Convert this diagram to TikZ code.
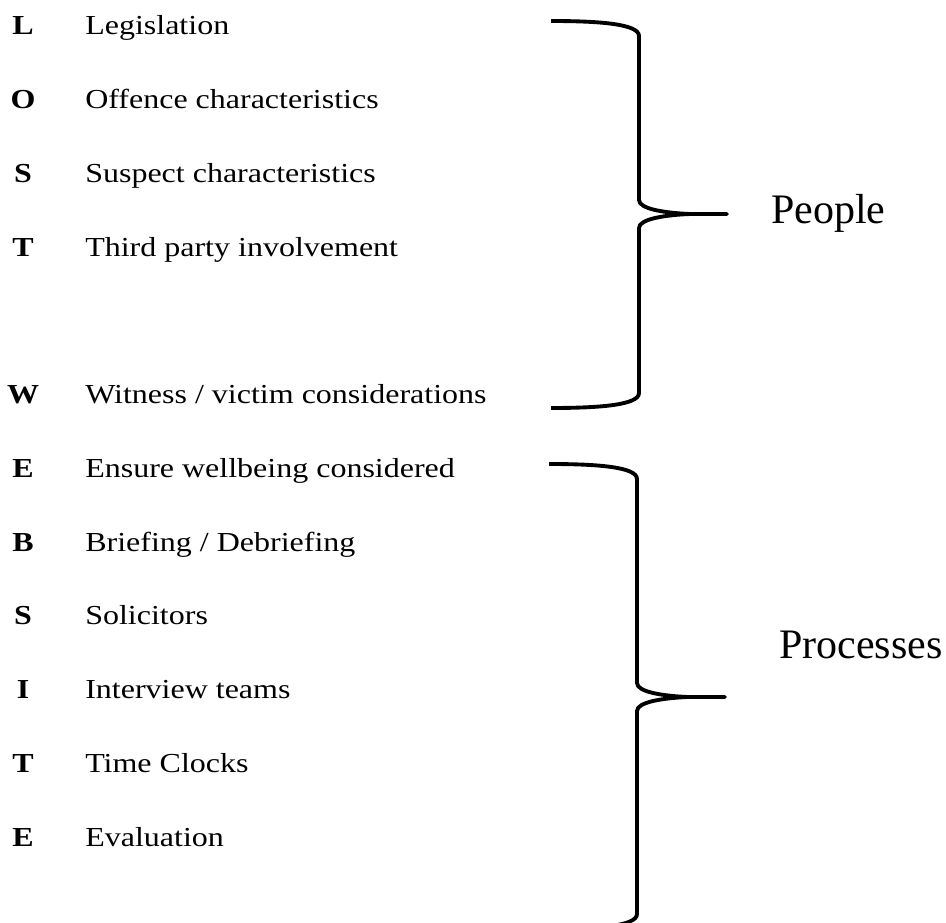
\documentclass[tikz,border=0pt]{standalone}
\usepackage{fontspec}
\setmainfont{Liberation Serif}
\newfontfamily\listfont[FakeStretch=1.165]{Liberation Serif}
\usepackage{tikz}
\usetikzlibrary{positioning,calc}
\tikzset{
    letter/.style={
           font=\listfont\fontsize{20.6pt}{24pt}\selectfont\bfseries,
           inner sep=0pt,
           text height=15pt,
           text depth=5pt,
           text centered,
           },
    entry/.style={
           font=\listfont\fontsize{20.6pt}{24pt}\selectfont,
           anchor=base west,
           inner sep=0pt,
           },
    group/.style={
           font=\fontsize{31.5pt}{36pt}\selectfont,
           anchor=base west,
           inner sep=0pt,
           },
    bracket/.style={
           draw=black,
           line width=2.9pt,
           line join=round,
           },
}

\begin{document}
\begin{tikzpicture}
[
x=0.75pt,y=-0.75pt
]

 \useasboundingbox (0,0) rectangle (946,923);

 % column where the words start
 \coordinate (textcol) at (85,0);

 % LOST letters
 \node[letter, anchor=base] (L) at (23,35) {L};
 \node[letter, below of=L, node distance=55.3pt] (O) {O};
 \node[letter, below of=O, node distance=55.3pt] (S) {S};
 \node[letter, below of=S, node distance=55.3pt] (T) {T};
 % one empty line before W
 \node[letter, below of=T, node distance=110.6pt] (W) {W};

 % EBSITE letters
 \node[letter, below of=W, node distance=55.3pt] (E) {E};
 \node[letter, below of=E, node distance=55.3pt] (B) {B};
 \node[letter, below of=B, node distance=55.3pt] (S2) {S};
 \node[letter, below of=S2, node distance=55.3pt] (I) {I};
 \node[letter, below of=I, node distance=55.3pt] (T2) {T};
 \node[letter, below of=T2, node distance=55.3pt] (E2) {E};

 % the words, on the baseline of their letter
 \node[entry] (Ltext) at (textcol |- L.base) {Legislation};
 \node[entry] (Otext) at (textcol |- O.base) {Offence characteristics};
 \node[entry] (Stext) at (textcol |- S.base) {Suspect characteristics};
 \node[entry] (Ttext) at (textcol |- T.base) {Third party involvement};
 \node[entry] (Wtext) at (textcol |- W.base) {Witness / victim considerations};
 \node[entry] (Etext) at (textcol |- E.base) {Ensure wellbeing considered};
 \node[entry] (Btext) at (textcol |- B.base) {Briefing / Debriefing};
 \node[entry] (S2text) at (textcol |- S2.base) {Solicitors};
 \node[entry] (Itext) at (textcol |- I.base) {Interview teams};
 \node[entry] (T2text) at (textcol |- T2.base) {Time Clocks};
 \node[entry] (E2text) at (textcol |- E2.base) {Evaluation};

 % PEOPLE brace
 \coordinate (PTOP) at (551,21);
 \coordinate (PTIP) at (727,214);
 \coordinate (PBOT) at (551,408);
 \draw[bracket] (PTOP) .. controls (600,21) and (639,24) .. (639,36)
  -- (639,200) .. controls (639,209) and (665,213) .. (690,214)
  -- (PTIP) -- (690,214) .. controls (665,215) and (639,219) .. (639,228)
  -- (639,393) .. controls (639,405) and (600,408) .. (PBOT);
 \node[group] (PEOPLE) at ($(PTIP)+(44,10)$) {People};

 % PROCESSES brace
 \coordinate (QTOP) at (549,464);
 \coordinate (QTIP) at (725,697);
 \coordinate (QBOT) at (549,929);
 \draw[bracket] (QTOP) .. controls (598,464) and (637,467) .. (637,479)
  -- (637,683) .. controls (637,692) and (663,696) .. (688,697)
  -- (QTIP) -- (688,697) .. controls (663,698) and (637,702) .. (637,711)
  -- (637,914) .. controls (637,926) and (598,929) .. (QBOT);
 \node[group] (PROCESSES) at ($(QTIP)+(54,-39)$) {Processes};

\end{tikzpicture}
\end{document}
